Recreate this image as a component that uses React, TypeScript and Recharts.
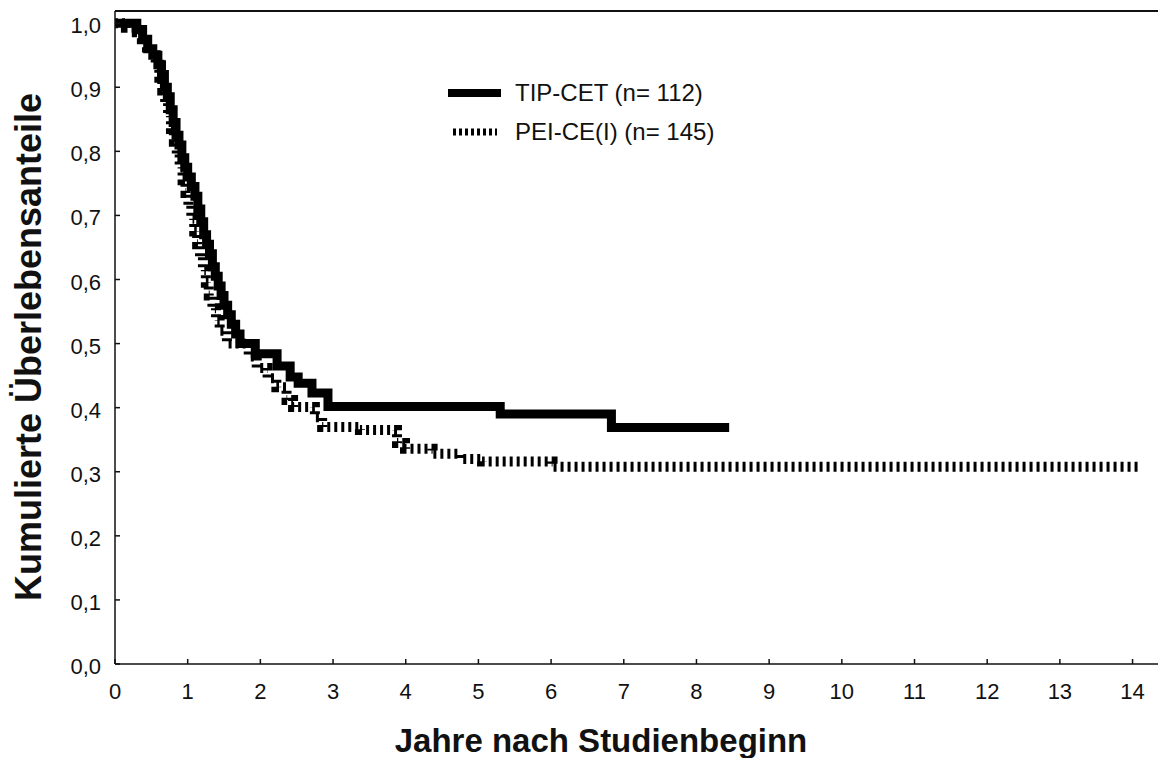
import React from 'react';
import { LineChart, Line, XAxis, YAxis, ReferenceLine, Legend, Customized } from 'recharts';

// Kaplan-Meier Stufen (Jahre / Überlebensanteil)
const TIP_T = [0, 0.3, 0.38, 0.45, 0.52, 0.59, 0.64, 0.68, 0.72, 0.76, 0.8, 0.84, 0.88, 0.92, 0.96, 1.0, 1.05, 1.1, 1.14, 1.18, 1.22, 1.26, 1.3, 1.34, 1.38, 1.42, 1.46, 1.5, 1.55, 1.6, 1.66, 1.72, 1.93, 2.23, 2.41, 2.52, 2.71, 2.93, 5.3, 6.83, 8.45];
const TIP_S = [1.0, 0.99, 0.975, 0.96, 0.95, 0.935, 0.92, 0.9, 0.885, 0.865, 0.845, 0.825, 0.81, 0.79, 0.775, 0.76, 0.745, 0.73, 0.71, 0.69, 0.67, 0.655, 0.64, 0.62, 0.605, 0.59, 0.575, 0.56, 0.545, 0.53, 0.515, 0.5, 0.484, 0.465, 0.448, 0.438, 0.423, 0.402, 0.39, 0.369, 0.369];

const PEI_T = [0, 0.15, 0.3, 0.37, 0.44, 0.5, 0.56, 0.61, 0.65, 0.69, 0.73, 0.77, 0.81, 0.85, 0.89, 0.93, 0.97, 1.01, 1.05, 1.09, 1.13, 1.17, 1.21, 1.25, 1.29, 1.34, 1.39, 1.44, 1.54, 1.84, 1.95, 2.1, 2.22, 2.36, 2.45, 2.75, 2.85, 3.37, 3.88, 3.99, 4.37, 4.75, 5.05, 6.02, 14.1];
const PEI_S = [1.0, 0.993, 0.986, 0.975, 0.962, 0.95, 0.935, 0.915, 0.895, 0.875, 0.855, 0.835, 0.815, 0.795, 0.775, 0.755, 0.735, 0.715, 0.695, 0.675, 0.655, 0.635, 0.615, 0.595, 0.575, 0.555, 0.537, 0.52, 0.5, 0.48, 0.462, 0.446, 0.432, 0.412, 0.401, 0.385, 0.37, 0.365, 0.345, 0.336, 0.328, 0.32, 0.316, 0.308, 0.308];

const SERIES_NAMES = ['TIP-CET (n= 112)', 'PEI-CE(I) (n= 145)'];
const X_TICKS = [0, 1, 2, 3, 4, 5, 6, 7, 8, 9, 10, 11, 12, 13, 14];
const Y_TICKS = [0, 0.1, 0.2, 0.3, 0.4, 0.5, 0.6, 0.7, 0.8, 0.9, 1.0];
const X_TITLE = 'Jahre nach Studienbeginn';
const Y_TITLE = 'Kumulierte Überlebensanteile';

const tipData = TIP_T.map((t, i) => ({ t, s: TIP_S[i] }));
const peiData = PEI_T.map((t, i) => ({ t, s: PEI_S[i] }));

const INK = '#111';
const FONT = '"Liberation Sans", Arial, Helvetica, sans-serif';

function XTick({ x, y, payload }: any) {
  return (
    <g>
      <line x1={x} x2={x} y1={y} y2={y - 5} stroke={INK} strokeWidth={1.5} />
      <text x={x} y={y + 35} textAnchor="middle" fontSize={22} fill={INK}>
        {payload.value}
      </text>
    </g>
  );
}

function YTick({ x, y, payload }: any) {
  return (
    <g>
      <line x1={x} x2={x + 5} y1={y} y2={y} stroke={INK} strokeWidth={1.5} />
      <text x={x - 14} y={y + 10} textAnchor="end" fontSize={22} fill={INK}>
        {payload.value.toFixed(1).replace('.', ',')}
      </text>
    </g>
  );
}

function Titles() {
  return (
    <g fill={INK} fontWeight="bold">
      <text x={601} y={752} textAnchor="middle" fontSize={33}>{X_TITLE}</text>
      <text transform="translate(41, 347) rotate(-90)" textAnchor="middle" fontSize={36}>{Y_TITLE}</text>
    </g>
  );
}

function KmLegend() {
  return (
    <div style={{ fontFamily: FONT, fontSize: 24, color: INK, lineHeight: '39px', whiteSpace: 'nowrap' }}>
      <div style={{ display: 'flex', alignItems: 'center' }}>
        <svg width={67} height={20}>
          <line x1={0} x2={53} y1={10} y2={10} stroke="#000" strokeWidth={8} />
        </svg>
        <span>{SERIES_NAMES[0]}</span>
      </div>
      <div style={{ display: 'flex', alignItems: 'center' }}>
        <svg width={67} height={20}>
          <line x1={5} x2={49} y1={10} y2={10} stroke="#000" strokeWidth={7} strokeDasharray="3 3" />
        </svg>
        <span>{SERIES_NAMES[1]}</span>
      </div>
    </div>
  );
}

export default function App() {
  return (
    <div style={{ position: 'absolute', left: 0, top: 0, background: '#fff', fontFamily: FONT }}>
      <LineChart width={1158} height={758} margin={{ top: 11, right: 0, bottom: 0, left: 0 }}>
        <XAxis
          dataKey="t"
          type="number"
          domain={[0, 14.35]}
          ticks={X_TICKS}
          allowDataOverflow
          height={94}
          tickSize={0}
          tickMargin={0}
          tick={<XTick />}
          axisLine={{ stroke: INK, strokeWidth: 1.5 }}
          interval={0}
        />
        <YAxis
          type="number"
          domain={[0, 1.019]}
          ticks={Y_TICKS}
          allowDataOverflow
          width={115}
          tickSize={0}
          tickMargin={0}
          tick={<YTick />}
          axisLine={{ stroke: INK, strokeWidth: 1.5 }}
          interval={0}
        />
        <ReferenceLine y={1.019} stroke={INK} strokeWidth={2} />
        <Line
          data={peiData}
          dataKey="s"
          type="stepAfter"
          stroke="#000"
          strokeWidth={10}
          strokeDasharray="3 4"
          dot={false}
          activeDot={false}
          isAnimationActive={false}
        />
        <Line
          data={tipData}
          dataKey="s"
          type="stepAfter"
          stroke="#000"
          strokeWidth={9}
          dot={false}
          activeDot={false}
          isAnimationActive={false}
        />
        <Legend
          layout="horizontal"
          verticalAlign="middle"
          align="center"
          content={<KmLegend />}
          wrapperStyle={{ position: 'absolute', left: 448, top: 73, width: 'auto' }}
        />
        <Customized component={Titles} />
      </LineChart>
    </div>
  );
}
